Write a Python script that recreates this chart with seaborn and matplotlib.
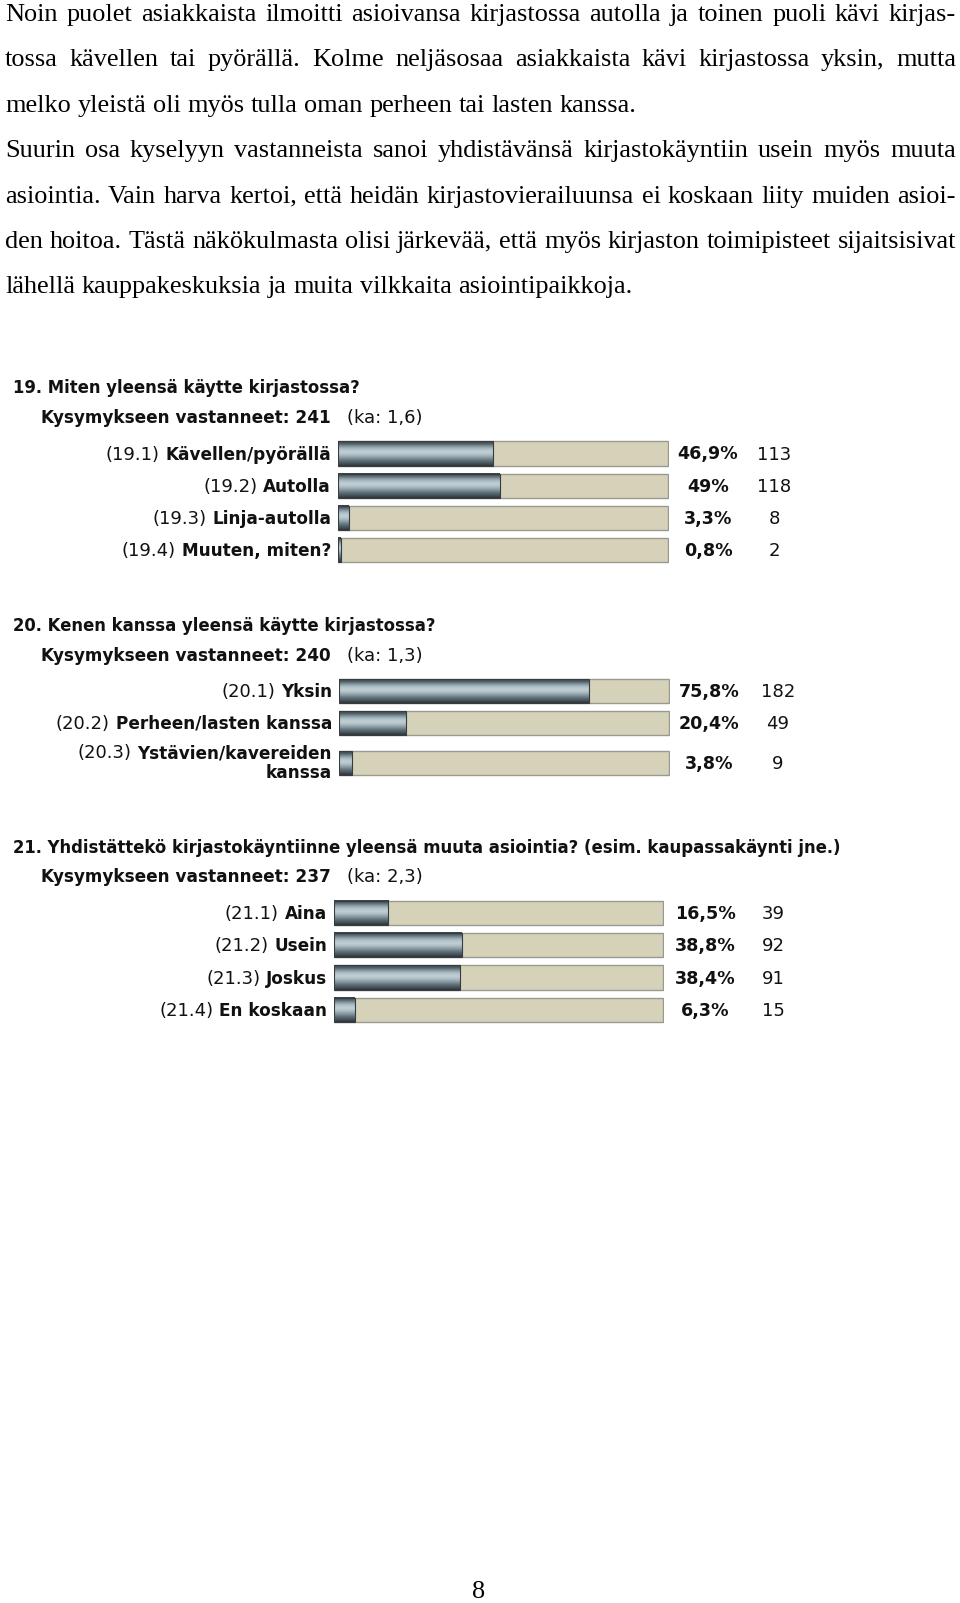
import matplotlib
matplotlib.use("Agg")
import matplotlib.pyplot as plt
import seaborn as sns
import numpy as np
from matplotlib.colors import LinearSegmentedColormap

# ---------------- data ----------------
para_lines = [
    "Noin puolet asiakkaista ilmoitti asioivansa kirjastossa autolla ja toinen puoli kävi kirjas-",
    "tossa kävellen tai pyörällä. Kolme neljäsosaa asiakkaista kävi kirjastossa yksin, mutta",
    "melko yleistä oli myös tulla oman perheen tai lasten kanssa.",
    "Suurin osa kyselyyn vastanneista sanoi yhdistävänsä kirjastokäyntiin usein myös muuta",
    "asiointia. Vain harva kertoi, että heidän kirjastovierailuunsa ei koskaan liity muiden asioi-",
    "den hoitoa. Tästä näkökulmasta olisi järkevää, että myös kirjaston toimipisteet sijaitsisivat",
    "lähellä kauppakeskuksia ja muita vilkkaita asiointipaikkoja.",
]
para_justify = [True, True, False, True, True, True, False]
page_number = "8"

q19_title = "19. Miten yleensä käytte kirjastossa?"
q19_answered = "241"
q19_mean = "1,6"
q19_codes = ["(19.1)", "(19.2)", "(19.3)", "(19.4)"]
q19_labels = ["Kävellen/pyörällä", "Autolla", "Linja-autolla", "Muuten, miten?"]
q19_pct = [46.9, 49.0, 3.3, 0.8]
q19_pct_labels = ["46,9%", "49%", "3,3%", "0,8%"]
q19_counts = [113, 118, 8, 2]

q20_title = "20. Kenen kanssa yleensä käytte kirjastossa?"
q20_answered = "240"
q20_mean = "1,3"
q20_codes = ["(20.1)", "(20.2)", "(20.3)"]
q20_labels = ["Yksin", "Perheen/lasten kanssa", "Ystävien/kavereiden\nkanssa"]
q20_pct = [75.8, 20.4, 3.8]
q20_pct_labels = ["75,8%", "20,4%", "3,8%"]
q20_counts = [182, 49, 9]

q21_title = "21. Yhdistättekö kirjastokäyntiinne yleensä muuta asiointia? (esim. kaupassakäynti jne.)"
q21_answered = "237"
q21_mean = "2,3"
q21_codes = ["(21.1)", "(21.2)", "(21.3)", "(21.4)"]
q21_labels = ["Aina", "Usein", "Joskus", "En koskaan"]
q21_pct = [16.5, 38.8, 38.4, 6.3]
q21_pct_labels = ["16,5%", "38,8%", "38,4%", "6,3%"]
q21_counts = [39, 92, 91, 15]

# ---------------- style ----------------
sns.set_style("white")
plt.rcParams["font.family"] = ["DejaVu Sans"]
SERIF = "Liberation Serif"
SANS = "DejaVu Sans"
BEIGE = "#d6d1b9"
BORDER = "#9a998f"
FILL_EDGE = "#353d41"
TXT = "#111111"
grad_cmap = LinearSegmentedColormap.from_list(
    "metal",
    ["#394145", "#55636a", "#8a9ca5", "#b3c3ca", "#c1cfd5", "#aebdc4",
     "#889aa3", "#62737b", "#48555b", "#2d3437"])

W, H = 960, 1603
fig = plt.figure(figsize=(W / 100, H / 100), dpi=100)
fig.patch.set_facecolor("white")
renderer = fig.canvas.get_renderer()


def fx(x):
    return x / W


def fy(y):
    return 1 - y / H


def text_width(s, **kw):
    t = fig.text(0, 0, s, **kw)
    w = t.get_window_extent(renderer).width
    t.remove()
    return w


# ---------------- paragraph ----------------
para_size = 16 * 631 / text_width(para_lines[2], family=SERIF, fontsize=16)
space_w = (text_width("x x", family=SERIF, fontsize=para_size)
           - text_width("xx", family=SERIF, fontsize=para_size))
X0, X1 = 5, 956
for i, (line, just) in enumerate(zip(para_lines, para_justify)):
    base = 21 + i * 45.4
    words = line.split(" ")
    widths = [text_width(w, family=SERIF, fontsize=para_size) for w in words]
    gap = (X1 - X0 - sum(widths)) / (len(words) - 1) if just else space_w
    x = X0
    for w, ww in zip(words, widths):
        fig.text(fx(x), fy(base), w, family=SERIF, fontsize=para_size,
                 ha="left", va="baseline", color="black")
        x += ww + gap

fig.text(fx(479), fy(1598), page_number, family=SERIF, fontsize=para_size,
         ha="center", va="baseline", color="black")

# ---------------- charts ----------------
chart_size = 10 * 345 / text_width(q19_title, family=SANS, weight="bold", fontsize=10)
title_size = chart_size * 1.01
bold_size = chart_size * 1.03
normal_size = chart_size * 1.1
pct_size = chart_size * 1.07


def draw_chart(title, answered, mean, codes, labels, pct, pct_labels, counts,
               title_base, sub_base, bar_left, bar_right, first_center, pitch,
               row_pos, pct_x, count_x):
    fig.text(fx(13), fy(title_base), title, family=SANS, weight="bold",
             fontsize=title_size, ha="left", va="baseline", color=TXT)
    sub = "Kysymykseen vastanneet: " + answered
    fig.text(fx(41), fy(sub_base), sub, family=SANS, weight="bold",
             fontsize=bold_size, ha="left", va="baseline", color=TXT)
    fig.text(fx(347), fy(sub_base), "(ka: " + mean + ")", family=SANS,
             fontsize=normal_size, ha="left", va="baseline", color=TXT)

    n = len(pct)
    pmax = max(row_pos)
    top_px = first_center - pitch / 2
    bot_px = first_center + (pmax + 0.5) * pitch
    ax = fig.add_axes([fx(bar_left), fy(bot_px), (bar_right - bar_left) / W,
                       (bot_px - top_px) / H])
    sns.barplot(x=[100] * n, y=row_pos, orient="y", native_scale=True,
                color=BEIGE, saturation=1, width=0.75, errorbar=None,
                edgecolor=BORDER, linewidth=1.0, ax=ax)
    sns.barplot(x=pct, y=row_pos, orient="y", native_scale=True,
                color="#7f9099", saturation=1, width=0.75, errorbar=None,
                edgecolor=FILL_EDGE, linewidth=0.8, ax=ax)
    for p in ax.patches[:n]:
        p.set_zorder(1)
    grad = np.linspace(0, 1, 128).reshape(-1, 1)
    for p in ax.patches[n:2 * n]:
        x0, y0, w, h = p.get_x(), p.get_y(), p.get_width(), p.get_height()
        ax.imshow(grad, cmap=grad_cmap, extent=[x0, x0 + w, y0 + h, y0],
                  aspect="auto", interpolation="bilinear", clip_path=p,
                  zorder=2)
        p.set_facecolor("none")
        p.set_zorder(3)
    ax.set_xlim(0, 100.4)
    ax.set_ylim(pmax + 0.5, -0.5)
    ax.set_axis_off()

    label_right = bar_left - 7
    sp = (text_width("x x", family=SANS, fontsize=normal_size)
          - text_width("xx", family=SANS, fontsize=normal_size))
    for code, lab, pos, pl, c in zip(codes, labels, row_pos, pct_labels, counts):
        cy = first_center + pos * pitch
        parts = lab.split("\n")
        if len(parts) == 1:
            bases = [cy + 6]
        else:
            bases = [cy - 5, cy + 15]
        for j, (part, b) in enumerate(zip(parts, bases)):
            fig.text(fx(label_right), fy(b), part, family=SANS, weight="bold",
                     fontsize=bold_size, ha="right", va="baseline", color=TXT)
            if j == 0:
                wb = text_width(part, family=SANS, weight="bold", fontsize=bold_size)
                fig.text(fx(label_right - wb - sp), fy(b), code, family=SANS,
                         fontsize=normal_size, ha="right", va="baseline", color=TXT)
        fig.text(fx(pct_x), fy(cy + 6), pl, family=SANS, weight="bold",
                 fontsize=pct_size, ha="center", va="baseline", color=TXT)
        fig.text(fx(count_x), fy(cy + 6), str(c), family=SANS,
                 fontsize=normal_size, ha="center", va="baseline", color=TXT)


draw_chart(q19_title, q19_answered, q19_mean, q19_codes, q19_labels, q19_pct,
           q19_pct_labels, q19_counts,
           title_base=393, sub_base=423, bar_left=338, bar_right=669,
           first_center=453.5, pitch=32.2, row_pos=[0, 1, 2, 3],
           pct_x=708, count_x=774)
draw_chart(q20_title, q20_answered, q20_mean, q20_codes, q20_labels, q20_pct,
           q20_pct_labels, q20_counts,
           title_base=631, sub_base=661, bar_left=339, bar_right=670,
           first_center=691, pitch=32, row_pos=[0, 1, 2.25],
           pct_x=709, count_x=778)
draw_chart(q21_title, q21_answered, q21_mean, q21_codes, q21_labels, q21_pct,
           q21_pct_labels, q21_counts,
           title_base=853, sub_base=882, bar_left=334, bar_right=664,
           first_center=913, pitch=32.3, row_pos=[0, 1, 2, 3],
           pct_x=705, count_x=773)

fig.savefig("out.png", dpi=100, facecolor="white")
